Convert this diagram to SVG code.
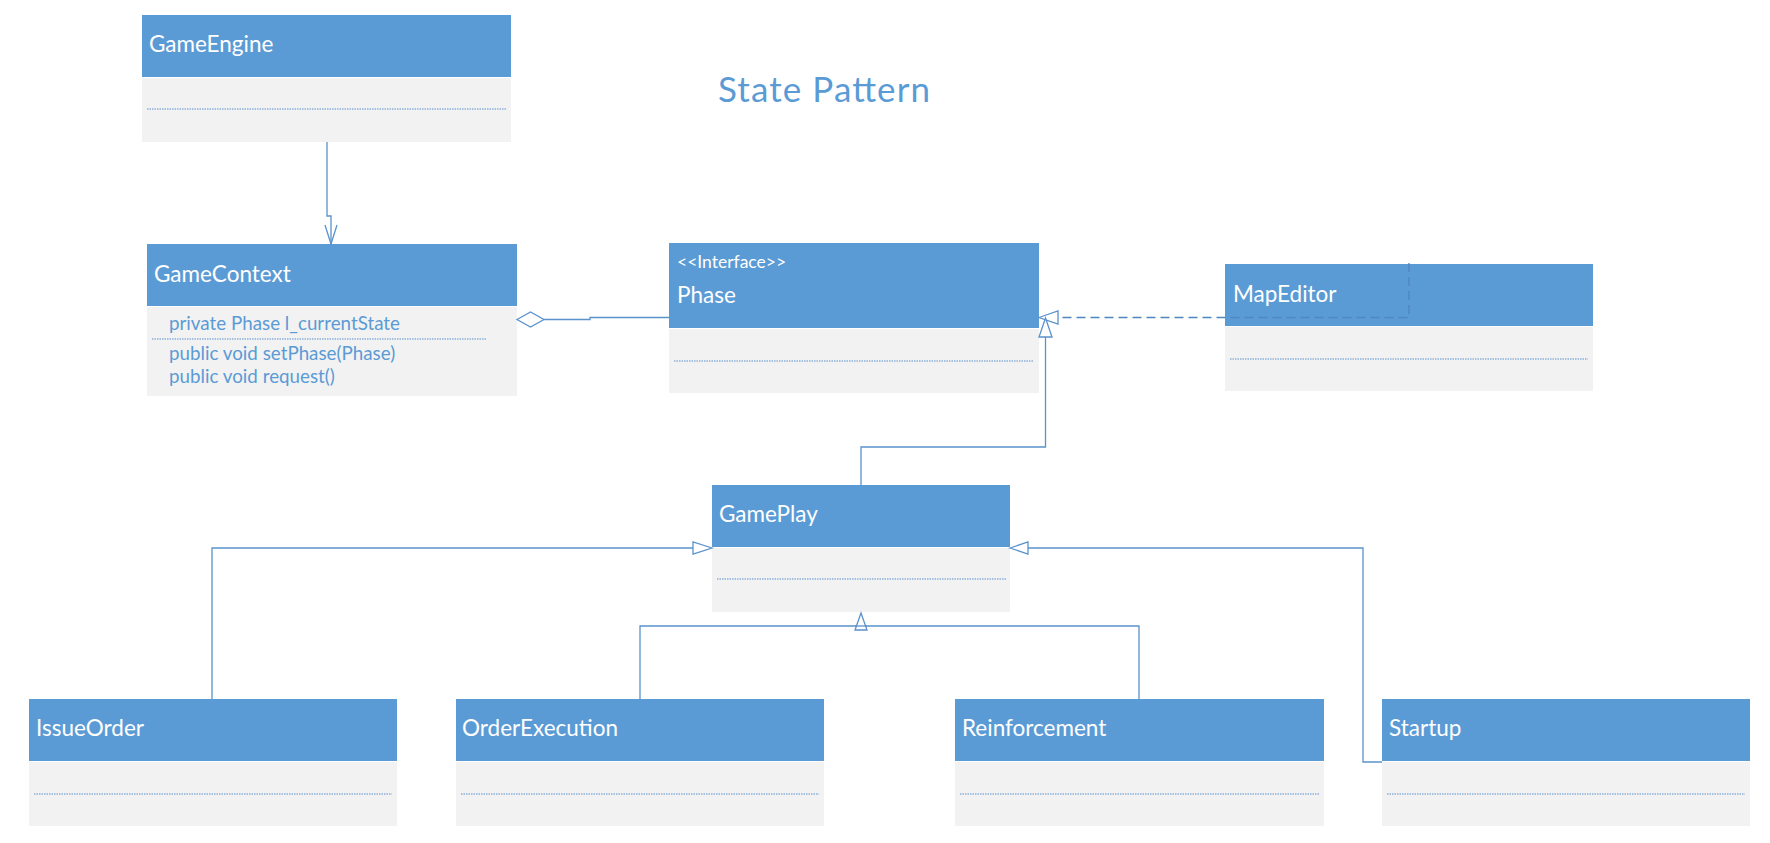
<svg xmlns="http://www.w3.org/2000/svg" width="1770" height="843" viewBox="0 0 1770 843">
<style>
.hd{fill:#5B9BD5}
.bd{fill:#F2F2F2}
.sep{stroke:#5B8FCC;stroke-width:1;stroke-dasharray:1.5 1;fill:none}
.nm{font-family:Lato,"Liberation Sans",sans-serif;font-size:22.5px;fill:#FFFFFF}
.st{font-family:Lato,"Liberation Sans",sans-serif;font-size:17.5px;fill:#FFFFFF}
.mb{font-family:Lato,"Liberation Sans",sans-serif;font-size:18.8px;fill:#5B9BD5}
.ttl{font-family:Lato,"Liberation Sans",sans-serif;font-size:35px;fill:#5B9BD5}
.ln{stroke:#5A92CC;stroke-width:1.3;fill:none}
.dl{stroke:#4F86C0;stroke-width:1.3;fill:none;stroke-dasharray:9 5}
.tri{stroke:#5A92CC;stroke-width:1.3;fill:#FFFFFF}
</style>
<rect x="0" y="0" width="1770" height="843" fill="#FFFFFF"/>
<text class="ttl" x="718" y="102" textLength="212" lengthAdjust="spacing">State Pattern</text>

<g id="GameEngine">
<rect class="hd" x="142" y="15" width="369" height="62"/>
<rect class="bd" x="142" y="78" width="369" height="64"/>
<line class="sep" x1="147" y1="109" x2="506" y2="109"/>
<text class="nm" x="149" y="52">GameEngine</text>
</g>

<g id="GameContext">
<rect class="hd" x="147" y="244" width="370" height="62"/>
<rect class="bd" x="147" y="307" width="370" height="89"/>
<line class="sep" x1="152" y1="339" x2="486" y2="339"/>
<text class="nm" x="154" y="282">GameContext</text>
<text class="mb" x="169" y="330">private Phase l_currentState</text>
<text class="mb" x="169" y="360">public void setPhase(Phase)</text>
<text class="mb" x="169" y="383">public void request()</text>
</g>

<g id="Phase">
<rect class="hd" x="669" y="243" width="370" height="85"/>
<rect class="bd" x="669" y="329" width="370" height="64"/>
<line class="sep" x1="674" y1="361" x2="1034" y2="361"/>
<text class="st" x="677" y="268">&lt;&lt;Interface&gt;&gt;</text>
<text class="nm" x="677" y="303">Phase</text>
</g>

<g id="MapEditor">
<rect class="hd" x="1225" y="264" width="368" height="62"/>
<rect class="bd" x="1225" y="327" width="368" height="64"/>
<line class="sep" x1="1230" y1="359" x2="1588" y2="359"/>
<text class="nm" x="1233" y="302">MapEditor</text>
</g>

<g id="GamePlay">
<rect class="hd" x="712" y="485" width="298" height="62"/>
<rect class="bd" x="712" y="548" width="298" height="64"/>
<line class="sep" x1="717" y1="579" x2="1006" y2="579"/>
<text class="nm" x="719" y="522">GamePlay</text>
</g>

<g id="IssueOrder">
<rect class="hd" x="29" y="699" width="368" height="62"/>
<rect class="bd" x="29" y="762" width="368" height="64"/>
<line class="sep" x1="34" y1="794" x2="392" y2="794"/>
<text class="nm" x="36" y="736">IssueOrder</text>
</g>

<g id="OrderExecution">
<rect class="hd" x="456" y="699" width="368" height="62"/>
<rect class="bd" x="456" y="762" width="368" height="64"/>
<line class="sep" x1="461" y1="794" x2="819" y2="794"/>
<text class="nm" x="462" y="736">OrderExecution</text>
</g>

<g id="Reinforcement">
<rect class="hd" x="955" y="699" width="369" height="62"/>
<rect class="bd" x="955" y="762" width="369" height="64"/>
<line class="sep" x1="960" y1="794" x2="1319" y2="794"/>
<text class="nm" x="962" y="736">Reinforcement</text>
</g>

<g id="Startup">
<rect class="hd" x="1382" y="699" width="368" height="62"/>
<rect class="bd" x="1382" y="762" width="368" height="64"/>
<line class="sep" x1="1387" y1="794" x2="1745" y2="794"/>
<text class="nm" x="1389" y="736">Startup</text>
</g>

<g id="connectors">
<!-- GameEngine -> GameContext -->
<path class="ln" d="M327,142 V216 H331 V244"/>
<path class="ln" d="M325,225 L331,244 L337,225"/>
<!-- aggregation GameContext <> Phase -->
<path class="ln" d="M544,319.5 H590 V317.5 H669"/>
<path class="tri" d="M517,319.5 L530.5,312 L544,319.5 L530.5,327 Z"/>
<!-- MapEditor realizes Phase -->
<path class="dl" d="M1409,263 V317.5 H1058"/>
<path class="tri" d="M1039,317.5 L1058,311 L1058,324 Z"/>
<!-- GamePlay realizes Phase -->
<path class="ln" d="M861,485 V447 H1045.5 V337"/>
<path class="tri" d="M1045.5,318 L1052,337 L1039,337 Z"/>
<!-- IssueOrder -> GamePlay -->
<path class="ln" d="M212,699 V548 H693"/>
<path class="tri" d="M712,548 L693,542 L693,554 Z"/>
<!-- Startup -> GamePlay -->
<path class="ln" d="M1382,762 H1363 V548 H1028"/>
<path class="tri" d="M1010,548 L1028,542 L1028,554 Z"/>
<!-- OrderExecution / Reinforcement -> GamePlay -->
<path class="ln" d="M640,699 V626 H1139 V699"/>
<path class="tri" d="M861,613 L867,630 L855,630 Z"/>
<line class="ln" x1="855" y1="626" x2="867" y2="626"/>
</g>
</svg>
